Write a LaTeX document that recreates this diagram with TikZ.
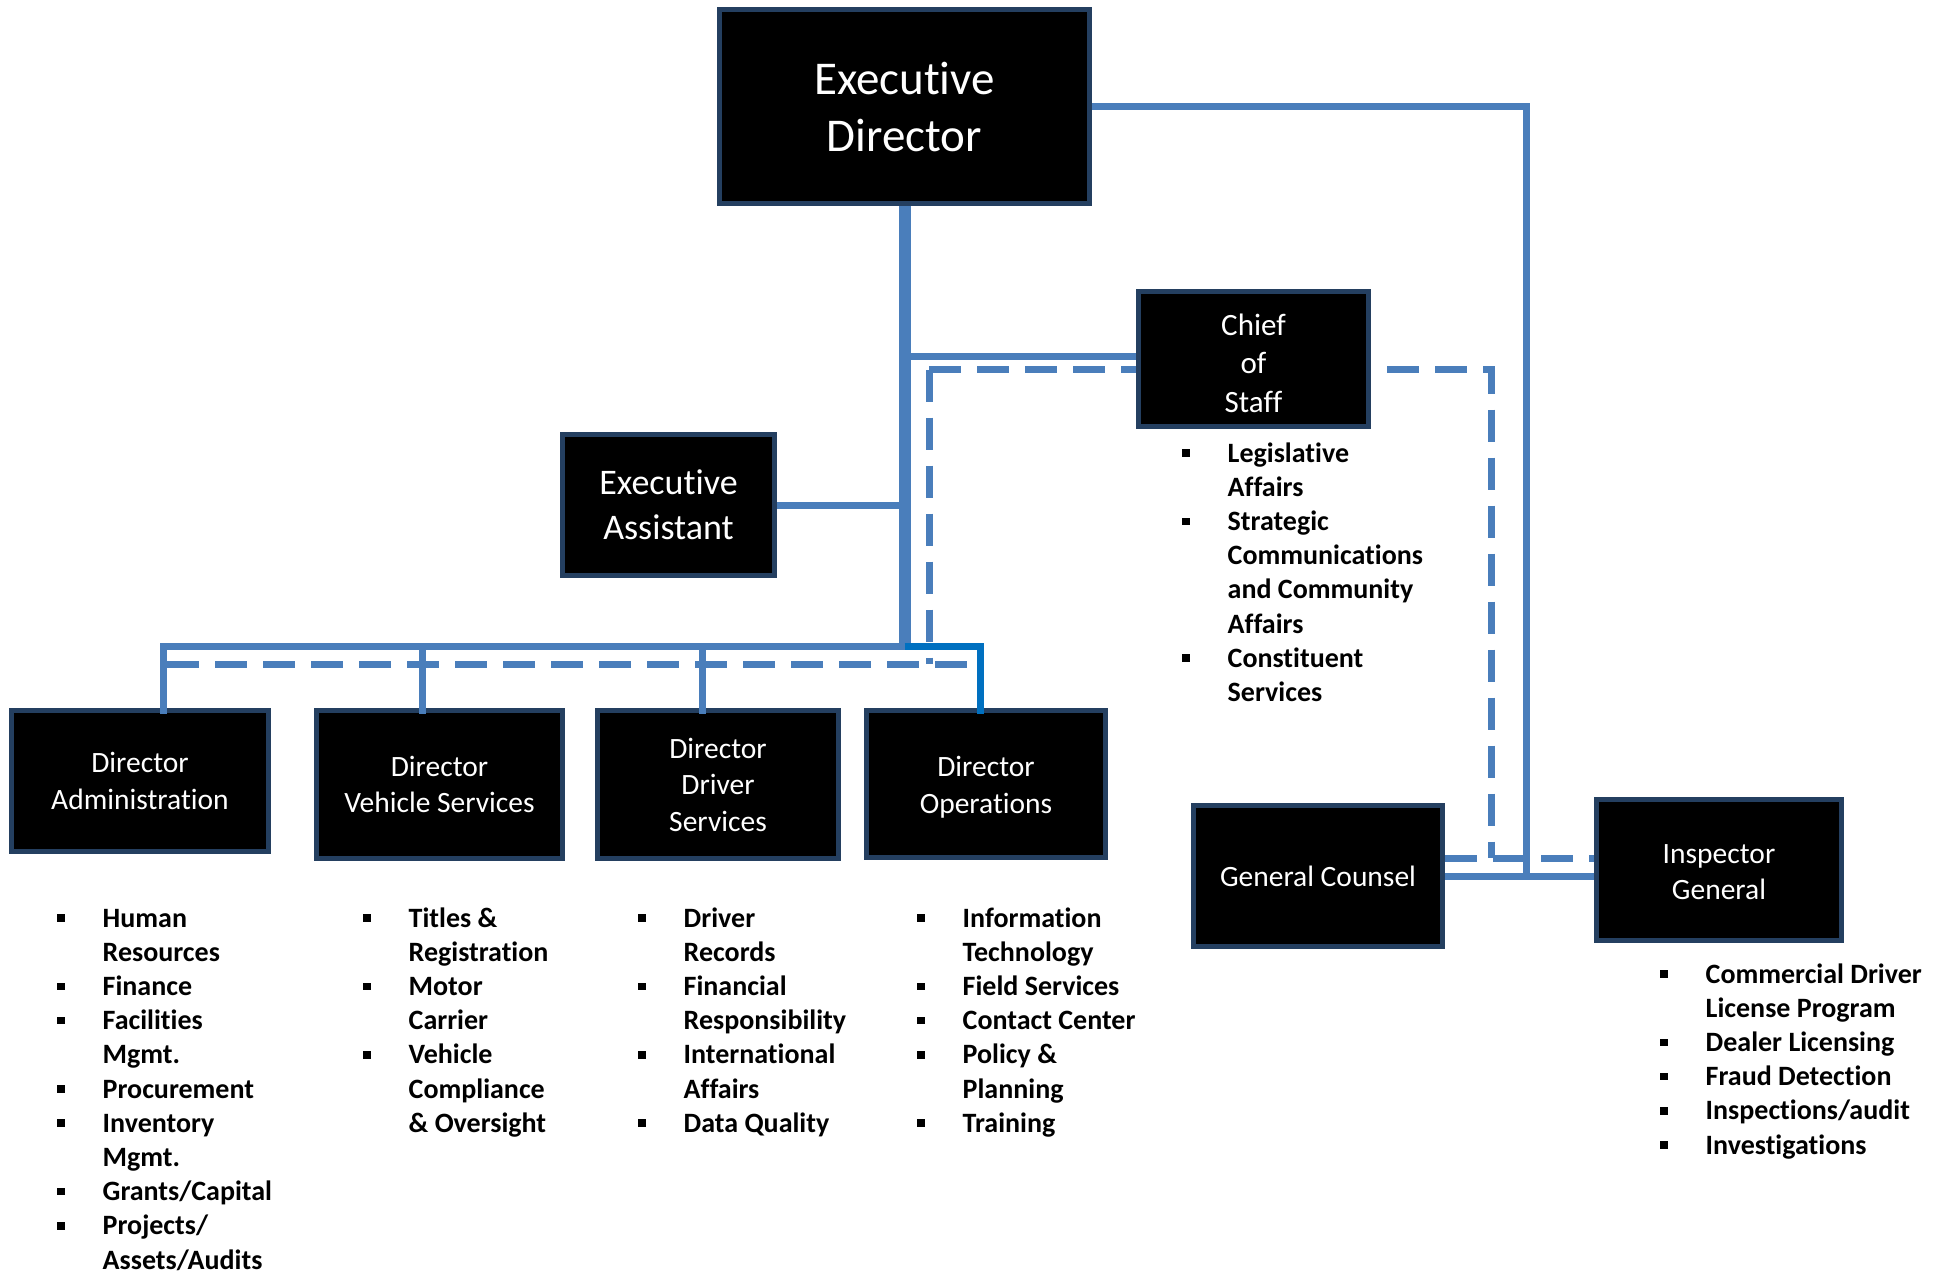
\documentclass[tikz,border=0pt]{standalone}
\usepackage{fontspec}
\setmainfont{Carlito}[Ligatures=NoCommon]
\usetikzlibrary{calc}
\definecolor{lb}{RGB}{74,126,187}
\definecolor{ob}{RGB}{0,112,192}
\definecolor{bx}{RGB}{36,63,96}
\newcommand{\mybul}{\makebox[45.5pt][l]{\raisebox{5.3pt}{\rule{7.5pt}{7.5pt}}}}
\begin{document}
\begin{tikzpicture}[x=1pt,y=-1pt,
  box/.style={draw=bx, line width=5pt, fill=black, text=white, inner sep=0pt, align=center},
  boxtext/.style={text=white, inner sep=0pt, align=center},
  sol/.style={draw=lb, line width=7pt},
  trunkline/.style={draw=lb, line width=12pt},
  opl/.style={draw=ob, line width=7pt},
  dsh/.style={draw=lb, line width=7pt, dash pattern=on 32pt off 16pt},
  lst/.style={anchor=base west, inner sep=0pt, font=\fontsize{28}{34.2}\selectfont\bfseries},
  dirfont/.style={font=\fontsize{29.5}{36.5}\selectfont}]
\useasboundingbox (0,0) rectangle (1946,1275);

% boxes
\node[box, minimum width=370pt, minimum height=194pt, font=\fontsize{47}{57}\selectfont] (ED) at (904.5,106.5) {Executive\\Director};
\node[box, minimum width=212pt, minimum height=141pt, font=\fontsize{36}{45}\selectfont] (EA) at (668.5,505) {Executive\\Assistant};
\node[box, minimum width=230pt, minimum height=135pt,
  label={[boxtext, yshift=-4pt, font=\fontsize{31}{38.5}\selectfont]center:Chief\\of\\Staff}] (CoS) at (1253.5,359) {};
\node[box, dirfont, minimum width=257pt, minimum height=141pt] (DA) at (140,781) {Director\\Administration};
\node[box, dirfont, minimum width=246pt, minimum height=148pt] (DVS) at (439.5,784.5) {Director\\Vehicle Services};
\node[box, dirfont, minimum width=241pt, minimum height=148pt] (DDS) at (718,784.5) {Director\\Driver\\Services};
\node[box, minimum width=239pt, minimum height=147pt,
  label={[boxtext, yshift=-3pt, dirfont]center:Director\\Operations}] (DO) at (986,784) {};
\node[box, dirfont, minimum width=249pt, minimum height=141pt] (GC) at (1318,876) {General Counsel};
\node[box, minimum width=245pt, minimum height=141pt,
  label={[boxtext, yshift=-2pt, dirfont]center:Inspector\\General}] (IG) at (1719,870) {};

% junction coordinates
\coordinate (tCoS) at (904.5,356);
\coordinate (tBus) at (904.5,646);
\coordinate (busL) at (163,646);
\coordinate (bDVS) at (422,646);
\coordinate (bDDS) at (702,646);
\coordinate (bDO) at (980,646);
\coordinate (jIG) at (1526,876);
\coordinate (dL) at (929,369.5);
\coordinate (dBus) at (929,664);
\coordinate (dBL) at (167,664);
\coordinate (dBR) at (967,664);
\coordinate (dR) at (1491,858);
\coordinate (cosL) at ($(CoS.west)+(0,10.5)$);
\coordinate (cosR) at ($(CoS.east)+(0,10.5)$);
\coordinate (gcD) at ($(GC.east)+(0,-18)$);

% solid connectors
\draw[trunkline] (ED.south) -- (ED.south |- tBus);
\draw[sol] (tCoS) -- (tCoS -| CoS.west);
\draw[sol] (EA.east) -- (EA.east -| tBus);
\draw[sol, shorten >=-6pt] (tBus) -- (busL) -- (busL |- DA.north);
\draw[sol, shorten >=-6pt] (bDVS) -- (bDVS |- DVS.north);
\draw[sol, shorten >=-6pt] (bDDS) -- (bDDS |- DDS.north);
\draw[opl, shorten >=-6pt] (tBus) -| (bDO |- DO.north);
\draw[sol] (ED.east) -| (jIG);
\draw[sol] (GC.east) -- (GC.east -| IG.west);

% dashed connectors
\draw[dsh] (dL) -- (cosL);
\draw[dsh] (dL) -- (dBus);
\draw[dsh] (dBL) -- (dBR);
\draw[dsh, dash phase=32pt] (cosR) -| (dR);
\draw[dsh] (gcD) -- (gcD -| IG.west);

% lists
\node[lst] (lCoS) at (1182,462) {\begin{tabular}[t]{@{}l@{}l@{}}
\mybul & Legislative\\ & Affairs\\ \mybul & Strategic\\ & Communications\\ & and Community\\ & Affairs\\ \mybul & Constituent\\ & Services
\end{tabular}};
\node[lst] (lDA) at (57,927) {\begin{tabular}[t]{@{}l@{}l@{}}
\mybul & Human\\ & Resources\\ \mybul & Finance\\ \mybul & Facilities\\ & Mgmt.\\ \mybul & Procurement\\ \mybul & Inventory\\ & Mgmt.\\ \mybul & Grants/Capital\\ \mybul & Projects/\\ & Assets/Audits
\end{tabular}};
\node[lst] (lDVS) at (363,927) {\begin{tabular}[t]{@{}l@{}l@{}}
\mybul & Titles \&\\ & Registration\\ \mybul & Motor\\ & Carrier\\ \mybul & Vehicle\\ & Compliance\\ & \& Oversight
\end{tabular}};
\node[lst] (lDDS) at (638,927) {\begin{tabular}[t]{@{}l@{}l@{}}
\mybul & Driver\\ & Records\\ \mybul & Financial\\ & Responsibility\\ \mybul & International\\ & Affairs\\ \mybul & Data Quality
\end{tabular}};
\node[lst] (lDO) at (917,927) {\begin{tabular}[t]{@{}l@{}l@{}}
\mybul & Information\\ & Technology\\ \mybul & Field Services\\ \mybul & Contact Center\\ \mybul & Policy \&\\ & Planning\\ \mybul & Training
\end{tabular}};
\node[lst] (lIG) at (1660,983) {\begin{tabular}[t]{@{}l@{}l@{}}
\mybul & Commercial Driver\\ & License Program\\ \mybul & Dealer Licensing\\ \mybul & Fraud Detection\\ \mybul & Inspections/audit\\ \mybul & Investigations
\end{tabular}};
\end{tikzpicture}
\end{document}
